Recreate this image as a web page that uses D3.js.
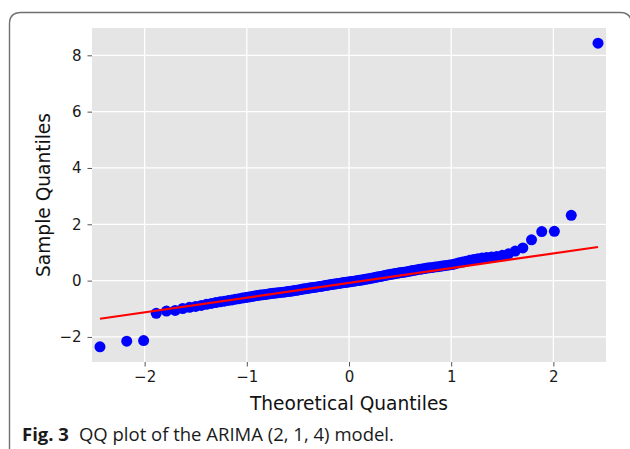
<!DOCTYPE html>
<html>
<head>
<meta charset="utf-8">
<script src="https://cdn.jsdelivr.net/npm/d3@7"></script>
<style>
  html, body { margin: 0; padding: 0; background: #ffffff; }
  svg { display: block; }
</style>
</head>
<body>
<svg id="chart" width="630" height="449"></svg>
<script>
// Sorted model residuals (sample quantiles), n = 134
const sampleQuantiles = [
  -2.35, -2.15, -2.13, -1.16, -1.08, -1.06, -0.99, -0.95, -0.915, -0.88,
  -0.84, -0.81, -0.78, -0.755, -0.73, -0.705, -0.685, -0.66, -0.64, -0.62,
  -0.60, -0.585, -0.565, -0.545, -0.53, -0.515, -0.50, -0.49, -0.475, -0.46,
  -0.45, -0.44, -0.43, -0.42, -0.41, -0.40, -0.39, -0.38, -0.37, -0.355,
  -0.345, -0.33, -0.32, -0.30, -0.29, -0.28, -0.265, -0.255, -0.245, -0.235,
  -0.225, -0.21, -0.20, -0.19, -0.175, -0.165, -0.155, -0.14, -0.13, -0.12,
  -0.11, -0.10, -0.09, -0.08, -0.07, -0.06, -0.05, -0.04, -0.03, -0.02,
  -0.01, 0.00, 0.01, 0.02, 0.035, 0.045, 0.06, 0.07, 0.085, 0.095,
  0.11, 0.125, 0.14, 0.15, 0.165, 0.18, 0.195, 0.21, 0.225, 0.235,
  0.25, 0.26, 0.275, 0.285, 0.30, 0.31, 0.325, 0.34, 0.355, 0.37,
  0.39, 0.40, 0.415, 0.43, 0.445, 0.46, 0.47, 0.485, 0.495, 0.51,
  0.525, 0.54, 0.555, 0.57, 0.60, 0.63, 0.66, 0.69, 0.72, 0.75,
  0.78, 0.80, 0.82, 0.84, 0.86, 0.90, 0.95, 1.05, 1.16, 1.45,
  1.74, 1.75, 2.32, 8.43
];

// Reference line (sample = slope * theoretical + intercept)
const lineSlope = 0.523;
const lineIntercept = -0.08;

const xTicks = [-2, -1, 0, 1, 2];
const yTicks = [-2, 0, 2, 4, 6, 8];
const xDomain = [-2.515, 2.515];
const yDomain = [-2.89, 8.97];

const xTitle = "Theoretical Quantiles";
const yTitle = "Sample Quantiles";
const captionLabel = "Fig. 3";
const captionText = "QQ plot of the ARIMA (2, 1, 4) model.";

// Inverse of the standard normal CDF (Acklam's rational approximation)
function normalQuantile(p) {
  const a = [-3.969683028665376e+01, 2.209460984245205e+02, -2.759285104469687e+02,
             1.383577518672690e+02, -3.066479806614716e+01, 2.506628277459239e+00];
  const b = [-5.447609879822406e+01, 1.615858368580409e+02, -1.556989798598866e+02,
             6.680131188771972e+01, -1.328068155288572e+01];
  const c = [-7.784894002430293e-03, -3.223964580411365e-01, -2.400758277161838e+00,
             -2.549732539343734e+00, 4.374664141464968e+00, 2.938163982698783e+00];
  const d = [7.784695709041462e-03, 3.224671290700398e-01, 2.445134137142996e+00,
             3.754408661907416e+00];
  const pl = 0.02425, ph = 1 - pl;
  let q, r;
  if (p < pl) {
    q = Math.sqrt(-2 * Math.log(p));
    return (((((c[0]*q+c[1])*q+c[2])*q+c[3])*q+c[4])*q+c[5]) /
           ((((d[0]*q+d[1])*q+d[2])*q+d[3])*q+1);
  }
  if (p <= ph) {
    q = p - 0.5; r = q * q;
    return (((((a[0]*r+a[1])*r+a[2])*r+a[3])*r+a[4])*r+a[5])*q /
           (((((b[0]*r+b[1])*r+b[2])*r+b[3])*r+b[4])*r+1);
  }
  q = Math.sqrt(-2 * Math.log(1 - p));
  return -(((((c[0]*q+c[1])*q+c[2])*q+c[3])*q+c[4])*q+c[5]) /
          ((((d[0]*q+d[1])*q+d[2])*q+d[3])*q+1);
}

// Pair each sorted residual with its normal quantile at plotting position i/(n+1)
const n = sampleQuantiles.length;
const points = sampleQuantiles.map((v, i) => ({
  x: normalQuantile((i + 1) / (n + 1)),
  y: v
}));
const xMin = d3.min(points, d => d.x), xMax = d3.max(points, d => d.x);

const svg = d3.select("#chart");
const plot = { left: 92, right: 606, top: 28, bottom: 362 };

// Figure card outline
svg.append("path")
  .attr("d", "M9.5,460 L9.5,24 Q9.5,12.5 21,12.5 L620,12.5 Q631.5,12.5 631.5,24 L631.5,460")
  .attr("fill", "none")
  .attr("stroke", "#6f6f6f")
  .attr("stroke-width", 1.4);

const x = d3.scaleLinear().domain(xDomain).range([plot.left, plot.right]);
const y = d3.scaleLinear().domain(yDomain).range([plot.bottom, plot.top]);

// Panel background
svg.append("rect")
  .attr("x", plot.left).attr("y", plot.top)
  .attr("width", plot.right - plot.left).attr("height", plot.bottom - plot.top)
  .attr("fill", "#e5e5e5");

// Grid lines
const grid = svg.append("g").attr("stroke", "#ffffff").attr("stroke-width", 1.3);
grid.selectAll("line.vx").data(xTicks).join("line")
  .attr("x1", d => x(d)).attr("x2", d => x(d))
  .attr("y1", plot.top).attr("y2", plot.bottom);
grid.selectAll("line.hy").data(yTicks).join("line")
  .attr("y1", d => y(d)).attr("y2", d => y(d))
  .attr("x1", plot.left).attr("x2", plot.right);

const fmt = d => d < 0 ? "\u2212" + Math.abs(d) : String(d);

// Axes
const xAxis = svg.append("g")
  .attr("transform", `translate(0,${plot.bottom})`)
  .call(d3.axisBottom(x).tickValues(xTicks).tickFormat(fmt).tickSize(4.5).tickPadding(5));
const yAxis = svg.append("g")
  .attr("transform", `translate(${plot.left},0)`)
  .call(d3.axisLeft(y).tickValues(yTicks).tickFormat(fmt).tickSize(4.5).tickPadding(6));

[xAxis, yAxis].forEach(ax => {
  ax.select(".domain").remove();
  ax.selectAll(".tick line").attr("stroke", "#555555").attr("stroke-width", 1);
  ax.selectAll(".tick text")
    .attr("fill", "#1a1a1a")
    .style("font-family", "'DejaVu Sans', sans-serif")
    .style("font-size", "15px");
});

// Sample points
svg.append("g").selectAll("circle").data(points).join("circle")
  .attr("cx", d => x(d.x))
  .attr("cy", d => y(d.y))
  .attr("r", 5.5)
  .attr("fill", "#0000ff");

// Fitted reference line across the data range
svg.append("line")
  .attr("x1", x(xMin)).attr("y1", y(lineSlope * xMin + lineIntercept))
  .attr("x2", x(xMax)).attr("y2", y(lineSlope * xMax + lineIntercept))
  .attr("stroke", "#ff0000")
  .attr("stroke-width", 2.2);

// Axis titles
svg.append("text")
  .attr("x", (plot.left + plot.right) / 2).attr("y", 410)
  .attr("text-anchor", "middle")
  .attr("fill", "#111111")
  .style("font-family", "'DejaVu Sans', sans-serif")
  .style("font-size", "18.6px")
  .text(xTitle);

svg.append("text")
  .attr("transform", `translate(50,${(plot.top + plot.bottom) / 2}) rotate(-90)`)
  .attr("text-anchor", "middle")
  .attr("fill", "#111111")
  .style("font-family", "'DejaVu Sans', sans-serif")
  .style("font-size", "18.6px")
  .text(yTitle);

// Caption
const cap = svg.append("text")
  .attr("x", 22).attr("y", 441)
  .attr("fill", "#1a1a1a")
  .style("font-family", "'Open Sans', 'Noto Sans', sans-serif")
  .style("font-size", "18.5px");
cap.append("tspan").attr("font-weight", "bold").text(captionLabel);
cap.append("tspan").attr("dx", 10).text(captionText);
</script>
</body>
</html>
